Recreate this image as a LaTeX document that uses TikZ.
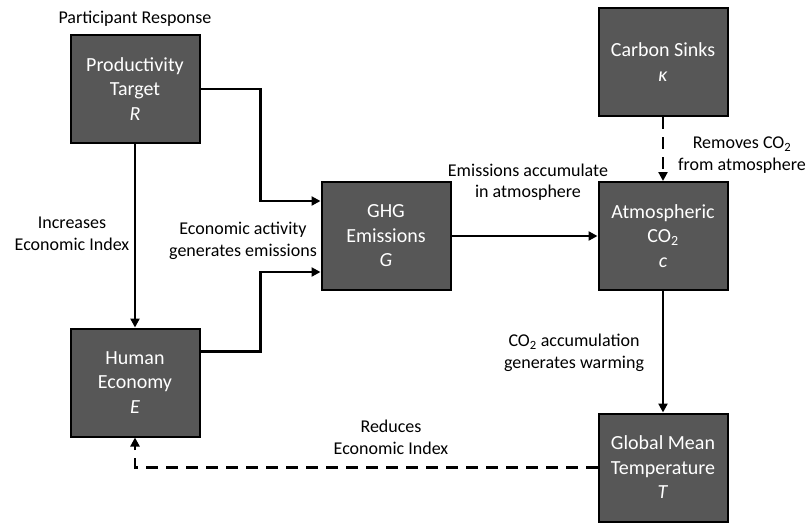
\documentclass[tikz,border=0pt]{standalone}
\usepackage{fontspec}
\setmainfont{Carlito}
\usetikzlibrary{arrows.meta}
\definecolor{boxgray}{HTML}{575757}
\begin{document}
\begin{tikzpicture}[x=1pt,y=-1pt,
 blk/.style={draw=black, line width=2pt, fill=boxgray, text=white, minimum width=129pt, minimum height=108pt, align=center, font=\fontsize{20}{24.5}\selectfont, inner sep=0pt},
 lbl/.style={align=center, font=\fontsize{18}{21.5}\selectfont, inner sep=0pt},
 conn/.style={line width=2.5pt, -{Triangle[length=9pt,width=9pt]}},
 dconn/.style={conn, dash pattern=on 12pt off 8pt}]
\useasboundingbox (0,0) rectangle (808,523);
\node[blk] (R) at (135,89) {Productivity\\Target\\\textit{R}};
\node[blk] (G) at (386,236) {GHG\\Emissions\\\textit{G}};
\node[blk] (E) at (135,382.5) {Human\\Economy\\\textit{E}};
\node[blk] (K) at (663,62) {Carbon Sinks\\\textit{κ}};
\node[blk] (C) at (663,236) {Atmospheric\\CO\textsubscript{2}\\\textit{c}};
\node[blk] (T) at (663,467.5) {Global Mean\\Temperature\\\textit{T}};
\node[lbl] (l1) at (135,19) {Participant Response};
\node[lbl] (l2) at (72,234) {Increases\\Economic Index};
\node[lbl] (l3) at (243,241) {Economic activity\\generates emissions};
\node[lbl] (l4) at (528,182) {Emissions accumulate\\in atmosphere};
\node[lbl] (l5) at (742,155) {Removes CO\textsubscript{2}\\from atmosphere};
\node[lbl] (l6) at (574,353) {CO\textsubscript{2} accumulation\\generates warming};
\node[lbl] (l7) at (391,437.5) {Reduces\\Economic Index};
\draw[conn] (R.east) -- ++(60,0) |- ([yshift=35pt]G.west);
\draw[conn] ([yshift=31pt]E.east) -- ++(60,0) |- ([yshift=-36pt]G.west);
\draw[conn] (R.south) -- (E.north);
\draw[conn] (G.east) -- (C.west);
\draw[dconn] (K.south) -- (C.north);
\draw[conn] (C.south) -- (T.north);
\draw[dconn] (T.west) -| (E.south);
\end{tikzpicture}
\end{document}
